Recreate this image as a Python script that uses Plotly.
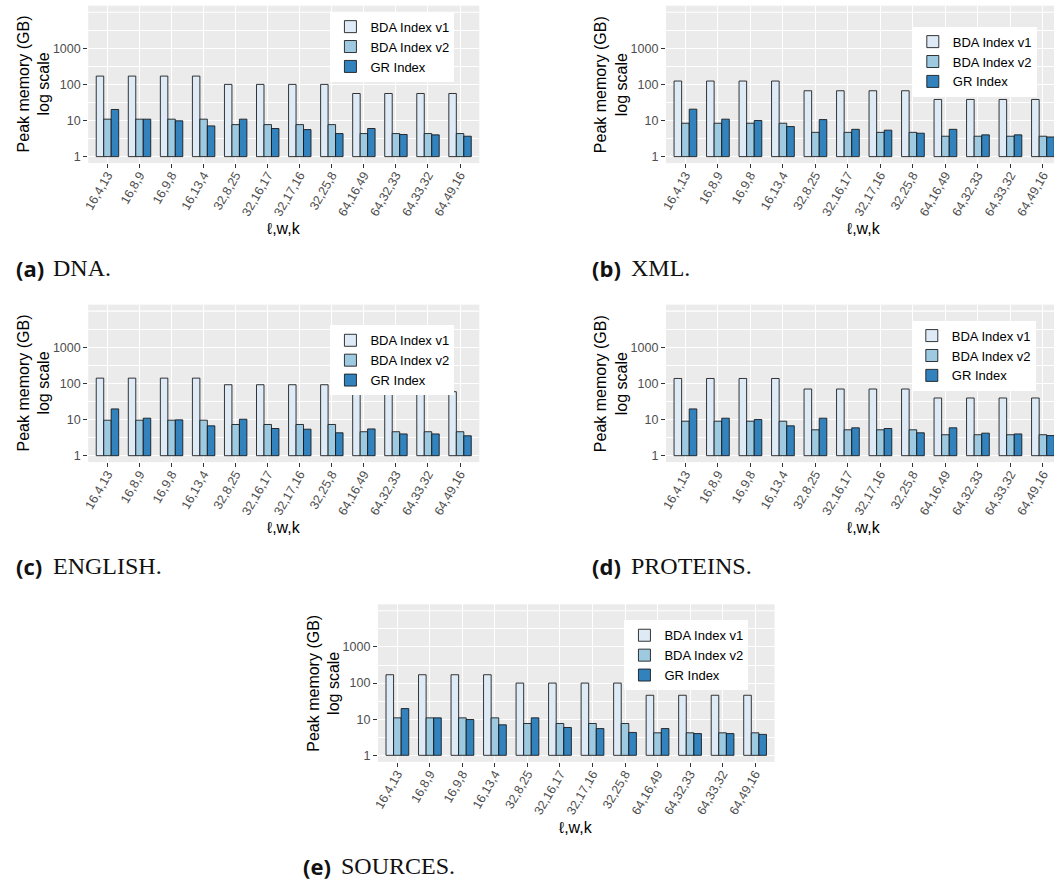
import plotly.graph_objects as go

W, H = 1054, 884

categories = ["16,4,13", "16,8,9", "16,9,8", "16,13,4", "32,8,25", "32,16,17",
              "32,17,16", "32,25,8", "64,16,49", "64,32,33", "64,33,32", "64,49,16"]
series_names = ["BDA Index v1", "BDA Index v2", "GR Index"]
series_colors = ["#DEEBF7", "#9ECAE1", "#3182BD"]

dna_v1 = [170, 170, 170, 170, 100, 100, 100, 100, 56, 56, 56, 56]
dna_v2 = [10.9, 10.9, 10.9, 10.9, 7.7, 7.7, 7.7, 7.7, 4.35, 4.35, 4.35, 4.35]
dna_gr = [20.2, 10.9, 9.8, 7.1, 10.9, 6.0, 5.6, 4.35, 6.0, 4.1, 4.0, 3.67]

xml_v1 = [124, 124, 124, 124, 66.7, 66.7, 66.7, 66.7, 38.3, 38.3, 38.3, 38.3]
xml_v2 = [8.4, 8.4, 8.4, 8.4, 4.7, 4.7, 4.7, 4.7, 3.67, 3.67, 3.67, 3.67]
xml_gr = [20.6, 10.9, 10.0, 6.8, 10.6, 5.7, 5.4, 4.45, 5.7, 4.0, 4.0, 3.5]

eng_v1 = [140, 140, 140, 140, 92, 92, 92, 92, 59, 59, 59, 59]
eng_v2 = [9.6, 9.6, 9.6, 9.6, 7.3, 7.3, 7.3, 7.3, 4.6, 4.6, 4.6, 4.6]
eng_gr = [19.7, 10.9, 9.8, 6.7, 10.2, 5.65, 5.4, 4.3, 5.5, 4.0, 4.0, 3.55]

pro_v1 = [137, 137, 137, 137, 70, 70, 70, 70, 39.5, 39.5, 39.5, 39.5]
pro_v2 = [9.0, 9.0, 9.0, 9.0, 5.2, 5.2, 5.2, 5.2, 3.8, 3.8, 3.8, 3.8]
pro_gr = [19.7, 10.9, 10.0, 6.7, 10.9, 5.9, 5.65, 4.3, 5.9, 4.2, 4.0, 3.6]

src_v1 = [170, 170, 170, 170, 100, 100, 100, 100, 46, 46, 46, 46]
src_v2 = [10.9, 10.9, 10.9, 10.9, 7.6, 7.6, 7.6, 7.6, 4.2, 4.2, 4.2, 4.2]
src_gr = [19.7, 10.9, 9.8, 7.0, 10.9, 5.9, 5.5, 4.3, 5.5, 4.0, 4.0, 3.8]

y_tick_vals = [1, 10, 100, 1000]
y_tick_text = ["1", "10", "100", "1000"]
y_minor_vals = [10 ** 0.5, 10 ** 1.5, 10 ** 2.5, 10 ** 3.5]

y_title = "Peak memory (GB)<br>log scale"
x_title = "\u2113,w,k"

# layout of each panel in page pixels
panels = [
    dict(letter="(a)", label="DNA.", data=(dna_v1, dna_v2, dna_gr),
         l=82.7, r=476, t=5.7, b=163.3, xend=11.6, leg=(451, 11.7),
         cap=(8, 45.7, 268)),
    dict(letter="(b)", label="XML.", data=(xml_v1, xml_v2, xml_gr),
         l=663.7, r=1054, t=5.7, b=163.3, xend=11.34, leg=(1036.7, 26.7),
         cap=(587, 626.5, 268)),
    dict(letter="(c)", label="ENGLISH.", data=(eng_v1, eng_v2, eng_gr),
         l=82.7, r=476, t=305, b=462.7, xend=11.6, leg=(451, 325.7),
         cap=(8, 45.7, 567)),
    dict(letter="(d)", label="PROTEINS.", data=(pro_v1, pro_v2, pro_gr),
         l=663.7, r=1054, t=305, b=462.7, xend=11.34, leg=(1035.7, 321),
         cap=(587, 626.5, 567)),
    dict(letter="(e)", label="SOURCES.", data=(src_v1, src_v2, src_gr),
         l=374, r=773, t=605, b=762.7, xend=11.6, leg=(746.7, 621),
         cap=(296.7, 335, 867)),
]


def fx(px):
    return px / W


def fy(py):
    return 1 - py / H


fig = go.Figure()
annotations = []
shapes = []
layout = {}

tick_font = dict(family="Liberation Sans, Arial, sans-serif", size=12.5, color="#4D4D4D")

for i, p in enumerate(panels):
    n = "" if i == 0 else str(i + 1)
    for name, vals, col in zip(series_names, p["data"], series_colors):
        fig.add_trace(go.Bar(
            x=categories,
            # bars rise from 1 (ggplot log scale baseline): base 1, length value-1
            y=[v - 1 for v in vals], base=1,
            customdata=vals, hovertemplate="%{x}: %{customdata} GB<extra>" + name + "</extra>",
            name=name,
            marker=dict(color=col, line=dict(color="rgba(20,20,20,0.85)", width=1)),
            xaxis="x" + n, yaxis="y" + n, legend="legend" + n,
        ))
    layout["xaxis" + n] = dict(
        domain=[fx(p["l"]), fx(p["r"])], anchor="y" + n, type="category",
        range=[-0.6, p["xend"]], showgrid=True, gridcolor="white", gridwidth=1.1,
        zeroline=False, showline=False, ticks="outside", ticklen=4, tickwidth=1,
        tickcolor="#333333", tickangle=-60, tickfont=tick_font, ticklabelstandoff=-5,
    )
    layout["yaxis" + n] = dict(
        domain=[fy(p["b"]), fy(p["t"])], anchor="x" + n, type="log",
        range=[-0.18, 4.18], tickmode="array", tickvals=y_tick_vals, ticktext=y_tick_text,
        showgrid=True, gridcolor="white", gridwidth=1.1, zeroline=False, showline=False,
        ticks="outside", ticklen=4, tickwidth=1, tickcolor="#333333", tickfont=tick_font,
        minor=dict(tickmode="array", tickvals=y_minor_vals, showgrid=True,
                   gridcolor="white", gridwidth=0.5, ticks=""),
    )
    layout["legend" + n] = dict(
        x=fx(p["leg"][0]), y=fy(p["leg"][1]), xanchor="right", yanchor="top",
        bgcolor="white", borderwidth=0, tracegroupgap=0, itemwidth=30,
        font=dict(family="Liberation Sans, Arial, sans-serif", size=13, color="black"),
    )
    # major grid line at 10^4 (no label)
    shapes.append(dict(type="line", xref="x" + n + " domain", x0=0, x1=1,
                       yref="y" + n, y0=10000, y1=10000, layer="below",
                       line=dict(color="white", width=1.1)))
    # axis titles
    annotations.append(dict(
        text=y_title, textangle=-90, xref="paper", yref="paper",
        x=fx(p["l"] - 54.5), y=fy((p["t"] + p["b"]) / 2), xanchor="center", yanchor="middle",
        showarrow=False, font=dict(family="Liberation Sans, Arial, sans-serif", size=16, color="black"),
    ))
    full_width = (11.6 + 0.6) * (p["r"] - p["l"]) / (p["xend"] + 0.6)
    annotations.append(dict(
        text=x_title, xref="paper", yref="paper",
        x=fx(p["l"] + full_width / 2),
        y=fy(p["b"] + 65.5), xanchor="center", yanchor="middle", showarrow=False,
        font=dict(family="Liberation Sans, DejaVu Sans, sans-serif", size=16, color="black"),
    ))
    # captions
    cx1, cx2, cy = p["cap"]
    annotations.append(dict(
        text="<b>" + p["letter"] + "</b>", xref="paper", yref="paper", x=fx(cx1), y=fy(cy),
        xanchor="left", yanchor="middle", showarrow=False,
        font=dict(family="Open Sans, DejaVu Sans, sans-serif", size=22, color="#111111"),
    ))
    annotations.append(dict(
        text=p["label"], xref="paper", yref="paper", x=fx(cx2), y=fy(cy),
        xanchor="left", yanchor="middle", showarrow=False,
        font=dict(family="Liberation Serif, DejaVu Serif, serif", size=24, color="#111111"),
    ))

fig.update_layout(
    width=W, height=H, margin=dict(l=0, r=0, t=0, b=0),
    paper_bgcolor="white", plot_bgcolor="#EBEBEB",
    barmode="group", bargap=0.3, bargroupgap=0,
    annotations=annotations, shapes=shapes, showlegend=True,
    **layout,
)

fig.write_html(
    "out.html",
    config={"displayModeBar": False},
    post_script="document.body.style.margin='0';document.body.style.overflow='hidden';",
)
